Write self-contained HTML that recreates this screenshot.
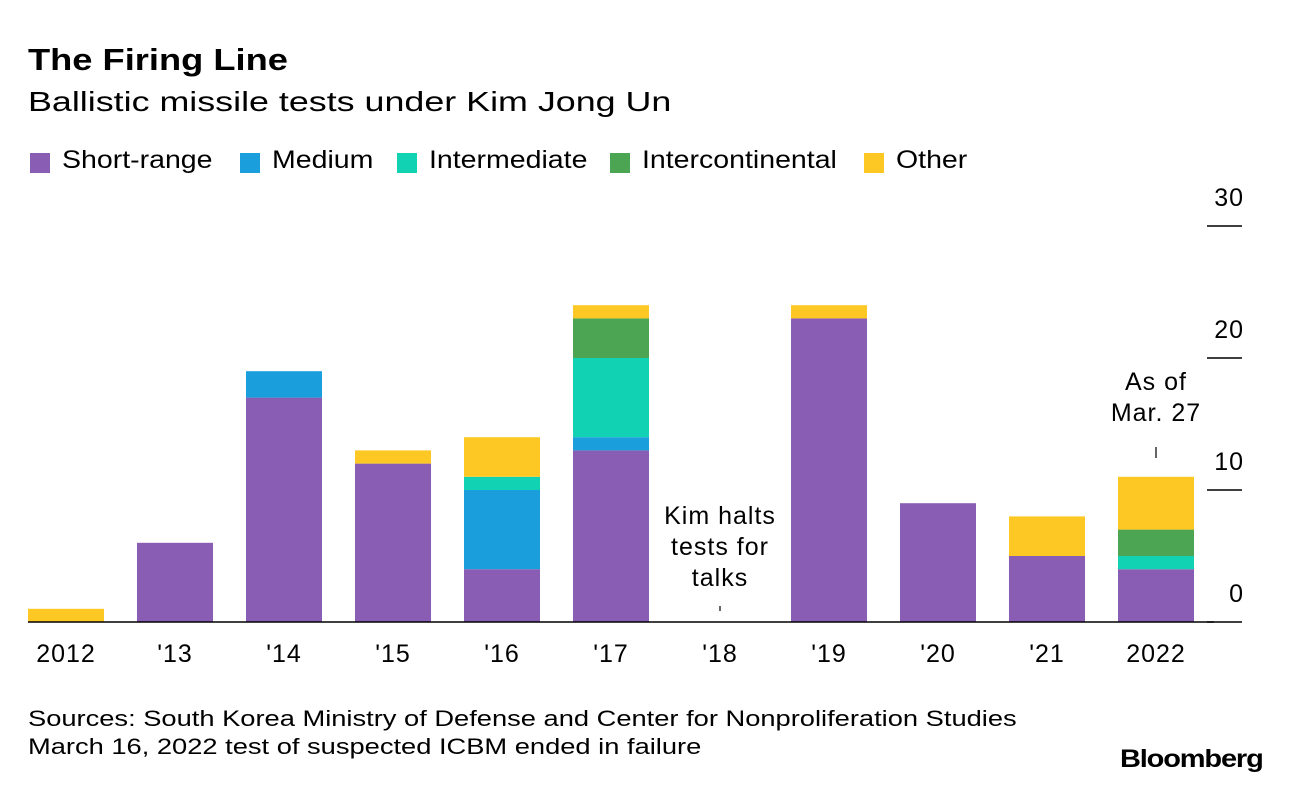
<!DOCTYPE html>
<html><head><meta charset="utf-8"><style>
body{margin:0;background:#fff;font-family:"Liberation Sans",sans-serif;color:#000}
#wrap{position:relative;width:1289px;height:786px;overflow:hidden}
.t{position:absolute;white-space:nowrap;transform-origin:0 0}
.lsq{position:absolute;width:20px;height:20px;top:153px}
.ltx{position:absolute;top:146px;font-size:25px;white-space:nowrap;transform-origin:0 0;transform:scaleX(1.14)}
</style></head><body>
<div id="wrap">
<div class="t" style="left:28px;top:42px;font-size:31px;font-weight:bold;transform:scaleX(1.17)">The Firing Line</div>
<div class="t" style="left:28px;top:86px;font-size:28px;transform:scaleX(1.28)">Ballistic missile tests under Kim Jong Un</div>
<div id="legend"></div>
<svg id="chart" width="1289" height="786" style="position:absolute;left:0;top:0"></svg>
<div class="t" style="left:28px;top:705px;font-size:22px;line-height:28px;transform:scaleX(1.24)">Sources: South Korea Ministry of Defense and Center for Nonproliferation Studies<br>March 16, 2022 test of suspected ICBM ended in failure</div>
<div class="t" style="left:1120px;top:745px;font-size:25px;font-weight:bold;letter-spacing:-1px;transform:scaleX(1.16)">Bloomberg</div>
</div>
<script>
const years=["2012","'13","'14","'15","'16","'17","'18","'19","'20","'21","2022"];
const seriesNames=["Short-range","Medium","Intermediate","Intercontinental","Other"];
const seriesColors=["#8a5db4","#1a9fdc","#12d2b4","#4ba552","#fdc823"];
const shortRange=[0,6,17,12,4,13,0,23,9,5,4];
const medium=[0,0,2,0,6,1,0,0,0,0,0];
const intermediate=[0,0,0,0,1,6,0,0,0,0,1];
const intercontinental=[0,0,0,0,0,3,0,0,0,0,2];
const other=[1,0,0,1,3,1,0,1,0,3,4];
const yTicks=[0,10,20,30];
const series=[shortRange,medium,intermediate,intercontinental,other];
const legendX=[30,240,397,610,864];
const NS="http://www.w3.org/2000/svg";
const svg=document.getElementById('chart');
const y0=622,pxPer=13.2,x0=66,step=109,bw=76;
const yS=v=>y0-v*pxPer, xS=i=>x0+i*step;
function mk(tag,attrs,txt){const e=document.createElementNS(NS,tag);for(const k in attrs)e.setAttribute(k,attrs[k]);if(txt!==undefined)e.textContent=txt;svg.appendChild(e);return e;}
const lg=document.getElementById('legend');
seriesNames.forEach((n,i)=>{
const sq=document.createElement('div');sq.className='lsq';sq.style.left=legendX[i]+'px';sq.style.background=seriesColors[i];


lg.appendChild(sq);
const tx=document.createElement('div');tx.className='ltx';tx.style.left=(legendX[i]+32)+'px';tx.textContent=n;


lg.appendChild(tx);});
const txtStyle={'font-size':25,'font-family':'Liberation Sans','letter-spacing':1};
yTicks.forEach(v=>{
const l=mk('line',{x1:1207,x2:1242,y1:yS(v),y2:yS(v),stroke:'#000','stroke-width':1.5});


const t=mk('text',Object.assign({x:1244,y:yS(v)-20,'text-anchor':'end'},txtStyle),v);


});
years.forEach((yr,i)=>{let acc=0;
series.forEach((s,k)=>{const v=s[i];if(v>0){const r=mk('rect',{x:xS(i)-bw/2,y:yS(acc+v),width:bw,height:v*pxPer,fill:seriesColors[k]});

}acc+=v;});
const t=mk('text',Object.assign({x:xS(i),y:662,'text-anchor':'middle'},txtStyle),yr);


});
const ax=mk('line',{x1:28,x2:1214,y1:y0,y2:y0,stroke:'#000','stroke-width':1.5});


function ann(lines,cx,ty,tickY1,tickY2,name){lines.forEach((l,j)=>{const t=mk('text',Object.assign({x:cx,y:ty+j*31,'text-anchor':'middle'},txtStyle),l);

});
const tl=mk('line',{x1:cx,x2:cx,y1:tickY1,y2:tickY2,stroke:'#000','stroke-width':1.2});

}
ann(["Kim halts","tests for","talks"],xS(6),524,606,611,'annotation-2018');
ann(["As of","Mar. 27"],xS(10),390,447,458,'annotation-2022');
</script>
</body></html>
